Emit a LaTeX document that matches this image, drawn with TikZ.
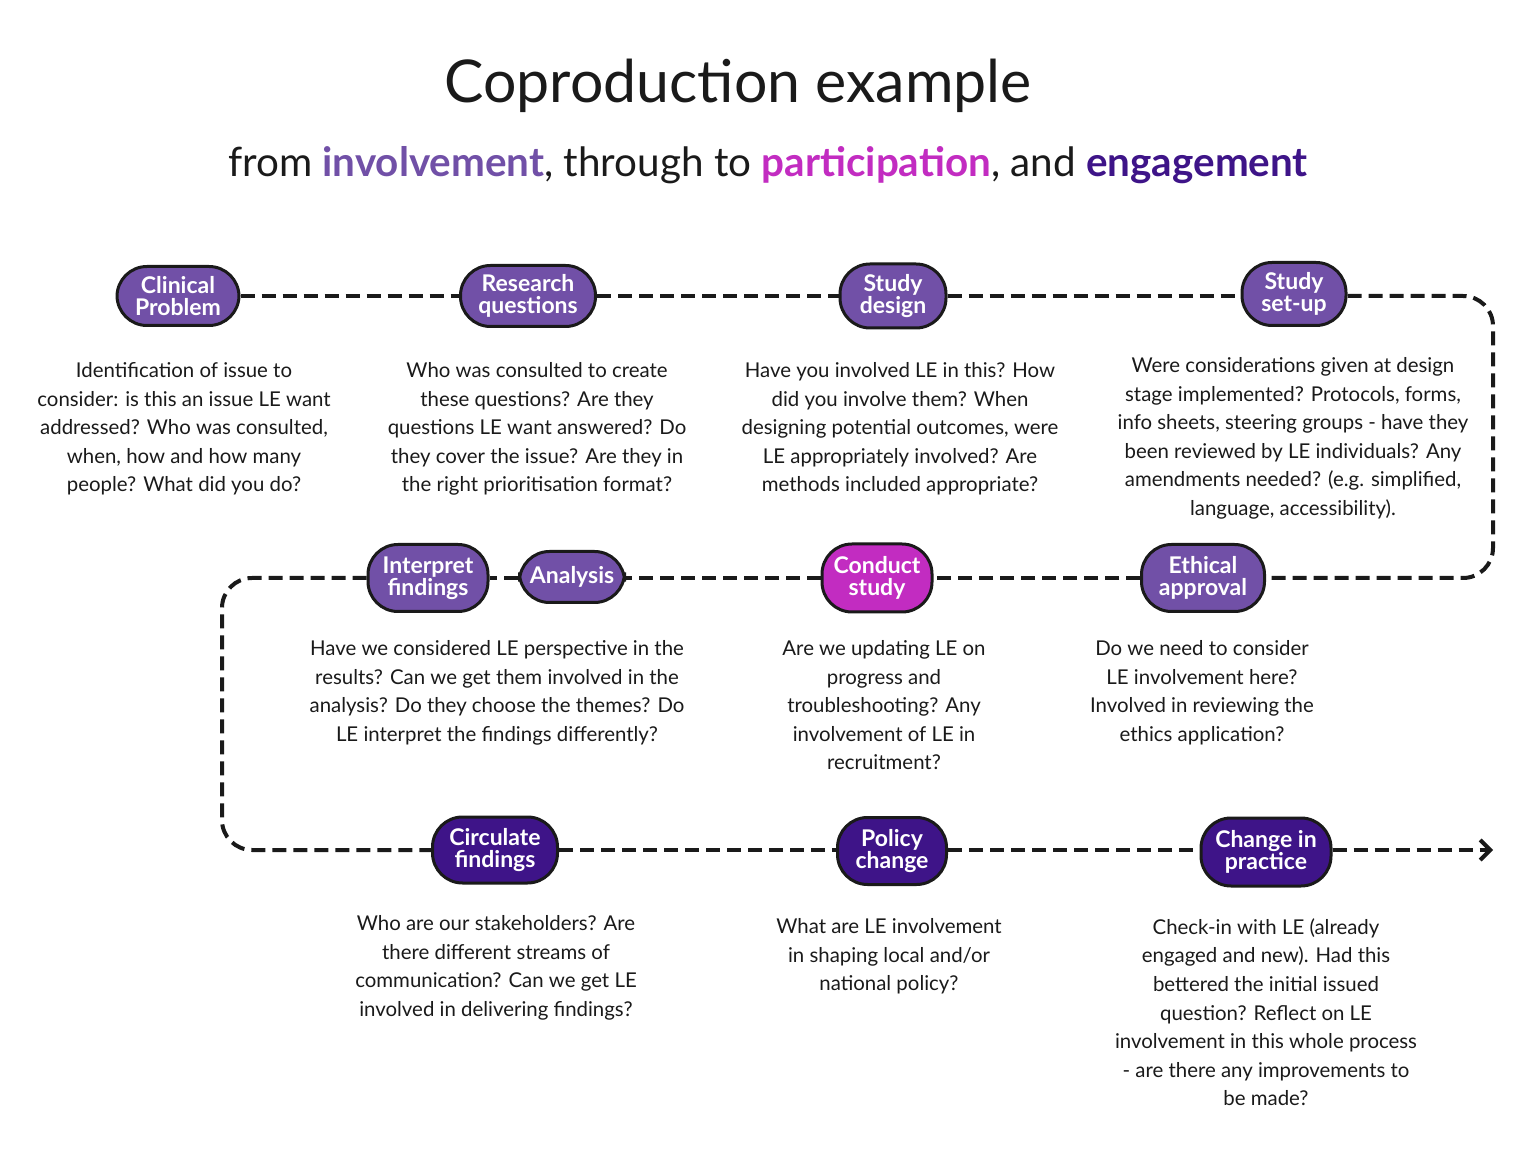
\documentclass[tikz,border=0pt]{standalone}
\usepackage{fontspec}
\setmainfont{Lato}
\usetikzlibrary{arrows.meta}
\definecolor{invol}{HTML}{7150A7}
\definecolor{partic}{HTML}{C22CC1}
\definecolor{engag}{HTML}{3E1488}
\definecolor{ink}{HTML}{1A1A1A}
\tikzset{
  stage/.style={draw=ink, line width=1.5pt, rounded corners=15pt, text=white,
    font=\bfseries\fontsize{11.5}{11}\selectfont, align=center, inner sep=0pt},
  invstage/.style={stage, fill=invol},
  parstage/.style={stage, fill=partic},
  engstage/.style={stage, fill=engag},
  desc/.style={text=ink, font=\fontsize{10.2}{14.3}\selectfont, align=center, inner sep=0pt, anchor=north},
  conn/.style={draw=ink, line width=2pt, dash pattern=on 7pt off 3.5pt, rounded corners=15pt}
}
\begin{document}
\begin{tikzpicture}[x=0.5pt,y=0.5pt]
\useasboundingbox[fill=white] (0,0) rectangle (1536,1152);

% titles
\node[anchor=base, text=ink, font=\fontsize{29.5}{30}\selectfont, inner sep=0pt] (title) at (738,1049) {Coproduction example};
\node[anchor=base, text=ink, font=\fontsize{20.2}{20}\selectfont, inner sep=0pt] (subtitle) at (768,975)
  {from {\bfseries\color{invol}involvement}, through to {\bfseries\color{partic}participation}, and {\bfseries\color{engag}engagement}};

% stages
\node[invstage, minimum width=61pt, minimum height=29.5pt] (cp) at (178,856) {Clinical\\Problem};
\node[invstage, minimum width=67.5pt, minimum height=30.5pt] (rq) at (528,856) {Research\\questions};
\node[invstage, minimum width=53pt, minimum height=32pt] (sd) at (893,856) {Study\\design};
\node[invstage, minimum width=52pt, minimum height=31.5pt] (ss) at (1294,858) {Study\\set-up};

\node[invstage, minimum width=61.5pt, minimum height=33.5pt] (ea) at (1203,574) {Ethical\\approval};
\node[parstage, minimum width=55pt, minimum height=34pt] (cs) at (877,574) {Conduct\\study};
\node[invstage, minimum width=52.5pt, minimum height=25.5pt] (an) at (572,575) {Analysis};
\node[invstage, minimum width=60pt, minimum height=33.5pt] (if) at (428,574) {Interpret\\findings};

\node[engstage, minimum width=62.5pt, minimum height=33pt] (cf) at (495,302) {Circulate\\findings};
\node[engstage, minimum width=54.5pt, minimum height=33.5pt] (pc) at (892,301) {Policy\\change};
\node[engstage, minimum width=65pt, minimum height=34pt] (cip) at (1266,300) {Change in\\practice};

% turning points
\coordinate (r1) at (1493,856);
\coordinate (r2) at (1493,574);
\coordinate (l1) at (222,574);
\coordinate (l2) at (222,302);
\coordinate (endpt) at (1493,302);

% connectors
\draw[conn] (cp) -- (rq);
\draw[conn] (rq) -- (sd);
\draw[conn] (sd) -- (ss.west |- sd);
\draw[conn] (ss.east |- r1) -- (r1) -- (r2) -- (ea.east);
\draw[conn] (ea) -- (cs);
\draw[conn] (cs.west) -- (an.east |- cs);
\draw[conn] (an.west |- if) -- (if.east);
\draw[conn] (if.west) -- (l1) -- (l2) -- (cf.west);
\draw[conn] (cf) -- (pc.west |- cf);
\draw[conn] (pc.east |- cf) -- (cip.west |- cf);
\draw[conn, -{Straight Barb[length=5pt,width=10pt,line width=2pt]}] (cip.east |- cf) -- (endpt);

% descriptions
\node[desc] (d1) at (184,790) {Identification of issue to\\consider: is this an issue LE want\\addressed? Who was consulted,\\when, how and how many\\people? What did you do?};
\node[desc] (d2) at (537,790) {Who was consulted to create\\these questions? Are they\\questions LE want answered? Do\\they cover the issue? Are they in\\the right prioritisation format?};
\node[desc] (d3) at (900,790) {Have you involved LE in this? How\\did you involve them? When\\designing potential outcomes, were\\LE appropriately involved? Are\\methods included appropriate?};
\node[desc] (d4) at (1293,795) {Were considerations given at design\\stage implemented? Protocols, forms,\\info sheets, steering groups - have they\\been reviewed by LE individuals? Any\\amendments needed? (e.g. simplified,\\language, accessibility).};

\node[desc] (d5) at (497,512) {Have we considered LE perspective in the\\results? Can we get them involved in the\\analysis? Do they choose the themes? Do\\LE interpret the findings differently?};
\node[desc] (d6) at (884,512) {Are we updating LE on\\progress and\\troubleshooting? Any\\involvement of LE in\\recruitment?};
\node[desc] (d7) at (1202,512) {Do we need to consider\\LE involvement here?\\Involved in reviewing the\\ethics application?};

\node[desc] (d8) at (496,237) {Who are our stakeholders? Are\\there different streams of\\communication? Can we get LE\\involved in delivering findings?};
\node[desc] (d9) at (889,234) {What are LE involvement\\in shaping local and/or\\national policy?};
\node[desc] (d10) at (1266,234) {Check-in with LE (already\\engaged and new). Had this\\bettered the initial issued\\question? Reflect on LE\\involvement in this whole process\\- are there any improvements to\\be made?};
\end{tikzpicture}
\end{document}
